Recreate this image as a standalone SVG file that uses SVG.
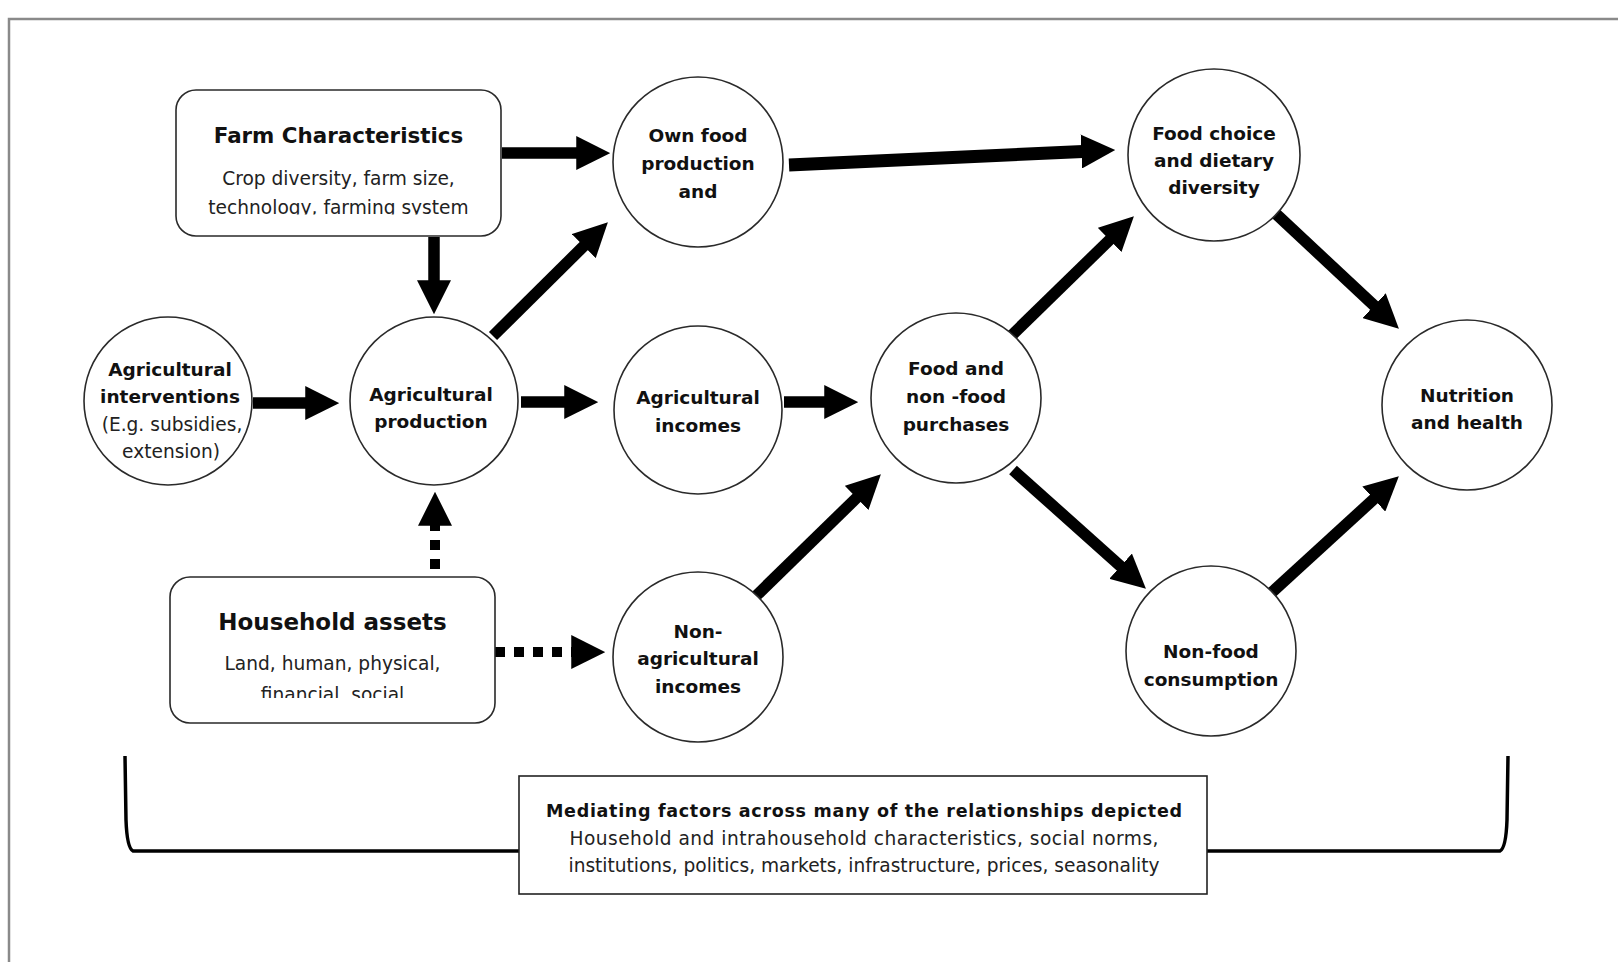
<svg xmlns="http://www.w3.org/2000/svg" width="1618" height="962" viewBox="0 0 1618 962">
<style>
.bg{fill:#ffffff}
.frame{stroke:#8a8a8a;stroke-width:2.5;fill:none}
.node{fill:#ffffff;stroke:#2a2a2a;stroke-width:1.6}
.b{font-family:"DejaVu Sans","Liberation Sans",sans-serif;font-weight:bold;font-size:18.5px;fill:#111;text-anchor:middle}
.r{font-family:"DejaVu Sans","Liberation Sans",sans-serif;font-size:18.6px;fill:#222;text-anchor:middle}
.t{font-family:"DejaVu Sans","Liberation Sans",sans-serif;font-weight:bold;fill:#111;text-anchor:middle}
.arr{stroke:#000;stroke-width:11.5;fill:none;marker-end:url(#ah)}
.dot{stroke:#000;stroke-width:10;fill:none;stroke-dasharray:10 9;marker-end:url(#ah)}
.brace{stroke:#000;stroke-width:3.5;fill:none;stroke-linejoin:round}
</style>
<defs>
<marker id="ah" markerUnits="userSpaceOnUse" markerWidth="34" markerHeight="34" viewBox="0 0 32 32" refX="12" refY="16" orient="auto">
<path d="M0,0 L32,16 L0,32 z" fill="#000"/>
</marker>
<clipPath id="clipFarm"><rect x="176" y="90" width="325" height="124.5"/></clipPath>
<clipPath id="clipHH"><rect x="170" y="577" width="325" height="121"/></clipPath>
</defs>
<rect class="bg" x="0" y="0" width="1618" height="962"/>
<path class="frame" d="M9,962 L9,19 L1618,19"/>

<g id="connectors">
<line class="arr" x1="502" y1="153" x2="589" y2="153"/>
<line class="arr" x1="434" y1="237" x2="434" y2="293"/>
<line class="arr" x1="789" y1="165" x2="1094" y2="150.9" style="stroke-width:13"/>
<line class="arr" x1="253" y1="403" x2="318" y2="403"/>
<line class="arr" x1="493" y1="336" x2="592.8" y2="237.1"/>
<line class="arr" x1="521" y1="402" x2="577" y2="402"/>
<line class="arr" x1="784" y1="402" x2="837" y2="402"/>
<line class="dot" x1="435" y1="569" x2="435" y2="513"/>
<line class="dot" x1="495" y1="652" x2="584" y2="652"/>
<line class="arr" x1="756" y1="596" x2="865.7" y2="489"/>
<line class="arr" x1="1011" y1="336" x2="1118.7" y2="231"/>
<line class="arr" x1="1013" y1="470" x2="1130.1" y2="574.7"/>
<line class="arr" x1="1274" y1="212" x2="1383.4" y2="314.3"/>
<line class="arr" x1="1269" y1="595" x2="1383.2" y2="490.5"/>
<path class="brace" d="M125,756 L126,820 Q127,848 133,851 L519,851"/>
<path class="brace" d="M1207,851 L1500,851 Q1506,848 1507,820 L1508,756"/>
</g>

<g id="farm-characteristics">
<rect class="node" x="176" y="90" width="325" height="146" rx="20"/>
<text class="t" x="338.5" y="143" font-size="21.4">Farm Characteristics</text>
<text class="r" x="338.5" y="185">Crop diversity, farm size,</text>
<text class="r" x="338.5" y="213.5" clip-path="url(#clipFarm)">technology, farming system</text>
</g>

<g id="household-assets">
<rect class="node" x="170" y="577" width="325" height="146" rx="20"/>
<text class="t" x="332.5" y="630" font-size="23">Household assets</text>
<text class="r" x="332.5" y="670">Land, human, physical,</text>
<text class="r" x="332.5" y="700.5" clip-path="url(#clipHH)">financial, social</text>
</g>

<g id="own-food-production">
<circle class="node" cx="698" cy="162" r="85"/>
<text class="b" x="698" y="142">Own food</text>
<text class="b" x="698" y="170">production</text>
<text class="b" x="698" y="198">and</text>
</g>

<g id="food-choice">
<circle class="node" cx="1214" cy="155" r="86"/>
<text class="b" x="1214" y="140">Food choice</text>
<text class="b" x="1214" y="167">and dietary</text>
<text class="b" x="1214" y="194">diversity</text>
</g>

<g id="agricultural-interventions">
<circle class="node" cx="168" cy="401" r="84"/>
<text class="b" x="170" y="376">Agricultural</text>
<text class="b" x="170" y="403">interventions</text>
<text class="r" x="172" y="431">(E.g. subsidies,</text>
<text class="r" x="171" y="458">extension)</text>
</g>

<g id="agricultural-production">
<circle class="node" cx="434" cy="401" r="84"/>
<text class="b" x="431" y="401">Agricultural</text>
<text class="b" x="431" y="428">production</text>
</g>

<g id="agricultural-incomes">
<circle class="node" cx="698" cy="410" r="84"/>
<text class="b" x="698" y="404">Agricultural</text>
<text class="b" x="698" y="432">incomes</text>
</g>

<g id="food-nonfood-purchases">
<circle class="node" cx="956" cy="398" r="85"/>
<text class="b" x="956" y="375">Food and</text>
<text class="b" x="956" y="403">non -food</text>
<text class="b" x="956" y="431">purchases</text>
</g>

<g id="nutrition-health">
<circle class="node" cx="1467" cy="405" r="85"/>
<text class="b" x="1467" y="402">Nutrition</text>
<text class="b" x="1467" y="429">and health</text>
</g>

<g id="non-agricultural-incomes">
<circle class="node" cx="698" cy="657" r="85"/>
<text class="b" x="698" y="638">Non-</text>
<text class="b" x="698" y="665">agricultural</text>
<text class="b" x="698" y="693">incomes</text>
</g>

<g id="non-food-consumption">
<circle class="node" cx="1211" cy="651" r="85"/>
<text class="b" x="1211" y="658">Non-food</text>
<text class="b" x="1211" y="686">consumption</text>
</g>

<g id="mediating-factors">
<rect x="519" y="776" width="688" height="118" fill="#fff" stroke="#222" stroke-width="1.6"/>
<text class="t" x="864" y="817" font-size="17.5" textLength="636">Mediating factors across many of the relationships depicted</text>
<text class="r" x="864" y="845" font-size="17.5" textLength="589">Household and intrahousehold characteristics, social norms,</text>
<text class="r" x="864" y="872" font-size="17.5" textLength="591">institutions, politics, markets, infrastructure, prices, seasonality</text>
</g>
</svg>
